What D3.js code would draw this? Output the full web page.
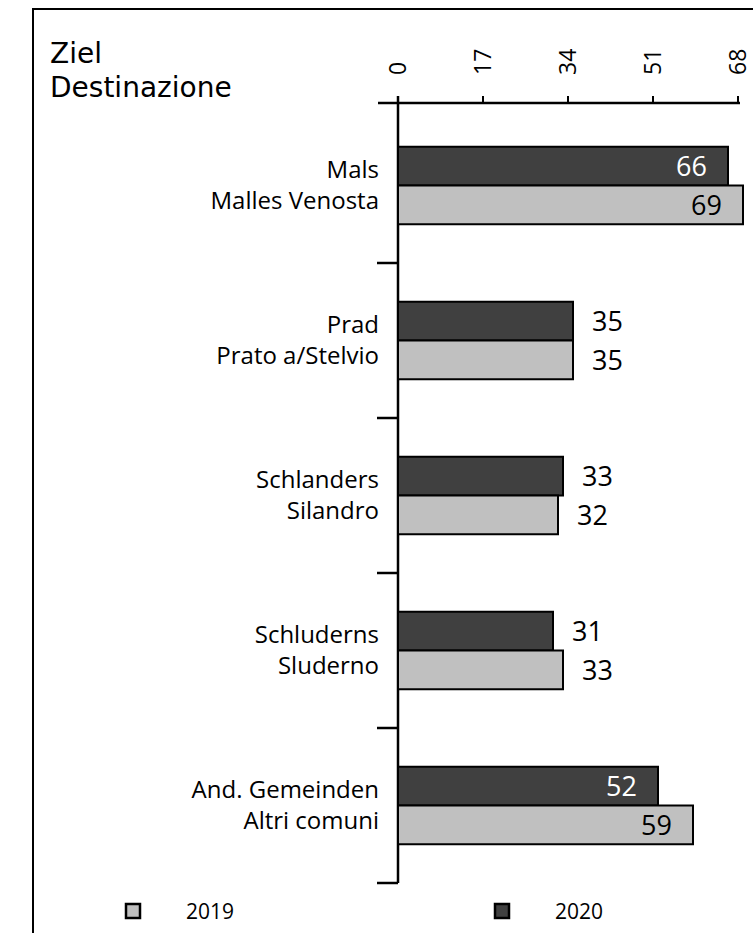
<!DOCTYPE html>
<html>
<head>
<meta charset="utf-8">
<script src="https://d3js.org/d3.v7.min.js"></script>
<style>
  body { margin: 0; background: #fff; }
  text { font-family: "Open Sans", sans-serif; fill: #000; }
</style>
</head>
<body>
<svg id="chart" width="753" height="933"></svg>
<script>
var placesDe = ["Mals", "Prad", "Schlanders", "Schluderns", "And. Gemeinden"]
var placesIt = ["Malles Venosta", "Prato a/Stelvio", "Silandro", "Sluderno", "Altri comuni"]
var values2020 = [66, 35, 33, 31, 52]
var values2019 = [69, 35, 32, 33, 59]
var tickValues = [0, 17, 34, 51, 68]
var years = ["2019", "2020"]

var colors = {"2019": "#c0c0c0", "2020": "#404040"}

var svg = d3.select("#chart")

// frame
svg.append("path")
  .attr("d", "M33,940 L33,9 L760,9")
  .attr("fill", "none").attr("stroke", "#000").attr("stroke-width", 2)

var x = d3.scaleLinear().domain([0, 68]).range([398, 738])
var y = d3.scaleBand().domain(d3.range(placesDe.length)).range([108, 883])
  .paddingInner(0.5).paddingOuter(0.25)
var half = y.bandwidth() / 2

// title
svg.append("text").attr("x", 50).attr("y", 63)
  .style("font-family", "'DejaVu Sans', sans-serif").style("font-size", "28px").text("Ziel")
svg.append("text").attr("x", 50).attr("y", 97)
  .style("font-family", "'DejaVu Sans', sans-serif").style("font-size", "28px").text("Destinazione")

// top axis
var axisY = 103
svg.append("line").attr("x1", 378).attr("x2", x(68) + 2).attr("y1", axisY).attr("y2", axisY)
  .attr("stroke", "#000").attr("stroke-width", 2.5)
svg.selectAll(".tick").data(tickValues).enter().append("line")
  .attr("x1", d => x(d)).attr("x2", d => x(d))
  .attr("y1", axisY - 7).attr("y2", axisY)
  .attr("stroke", "#000").attr("stroke-width", 2)
svg.selectAll(".ticklabel").data(tickValues).enter().append("text")
  .attr("transform", d => "translate(" + (x(d) + 8) + ",75) rotate(-90)")
  .style("font-size", "23px")
  .text(d => d)

// vertical axis with band ticks
svg.append("line").attr("x1", x(0)).attr("x2", x(0)).attr("y1", axisY - 7).attr("y2", 883)
  .attr("stroke", "#000").attr("stroke-width", 2.5)
var step = y.step()
var bounds = d3.range(1, placesDe.length + 1).map(i => y(i - 1) + half + step / 2)
svg.selectAll(".bandtick").data(bounds).enter().append("line")
  .attr("x1", 377).attr("x2", x(0)).attr("y1", d => d).attr("y2", d => d)
  .attr("stroke", "#000").attr("stroke-width", 2.5)

// bars
var groups = svg.selectAll(".grp").data(placesDe).enter().append("g")
groups.append("rect")
  .attr("x", x(0)).attr("y", (d, i) => y(i))
  .attr("width", (d, i) => x(values2020[i]) - x(0)).attr("height", half)
  .attr("fill", colors["2020"]).attr("stroke", "#000").attr("stroke-width", 2)
groups.append("rect")
  .attr("x", x(0)).attr("y", (d, i) => y(i) + half)
  .attr("width", (d, i) => x(values2019[i]) - x(0)).attr("height", half)
  .attr("fill", colors["2019"]).attr("stroke", "#000").attr("stroke-width", 2)

// category labels, two-line block centred on the group
groups.append("text")
  .attr("x", 379).attr("y", (d, i) => y(i) + half - 7.5)
  .attr("text-anchor", "end").style("font-size", "24px")
  .text(d => d)
groups.append("text")
  .attr("x", 379).attr("y", (d, i) => y(i) + half + 23.5)
  .attr("text-anchor", "end").style("font-size", "24px")
  .text((d, i) => placesIt[i])

// value labels
function valueLabel(v, yy, dark) {
  var inside = v > 45
  svg.append("text")
    .attr("x", inside ? x(v) - 21 : x(v) + 19)
    .attr("y", yy)
    .attr("text-anchor", inside ? "end" : "start")
    .style("font-size", "27px")
    .style("fill", inside && dark ? "#fff" : "#000")
    .text(v)
}
placesDe.forEach(function(d, i) {
  valueLabel(values2020[i], y(i) + half / 2 + 10, true)
  valueLabel(values2019[i], y(i) + half * 1.5 + 10, false)
})

// legend
var legendX = [126, 495]
years.forEach(function(yr, i) {
  svg.append("rect").attr("x", legendX[i]).attr("y", 904).attr("width", 14).attr("height", 14)
    .attr("fill", colors[yr]).attr("stroke", "#000").attr("stroke-width", 2.5)
  svg.append("text").attr("x", legendX[i] + 60).attr("y", 919).style("font-size", "21px").text(yr)
})
</script>
</body>
</html>
